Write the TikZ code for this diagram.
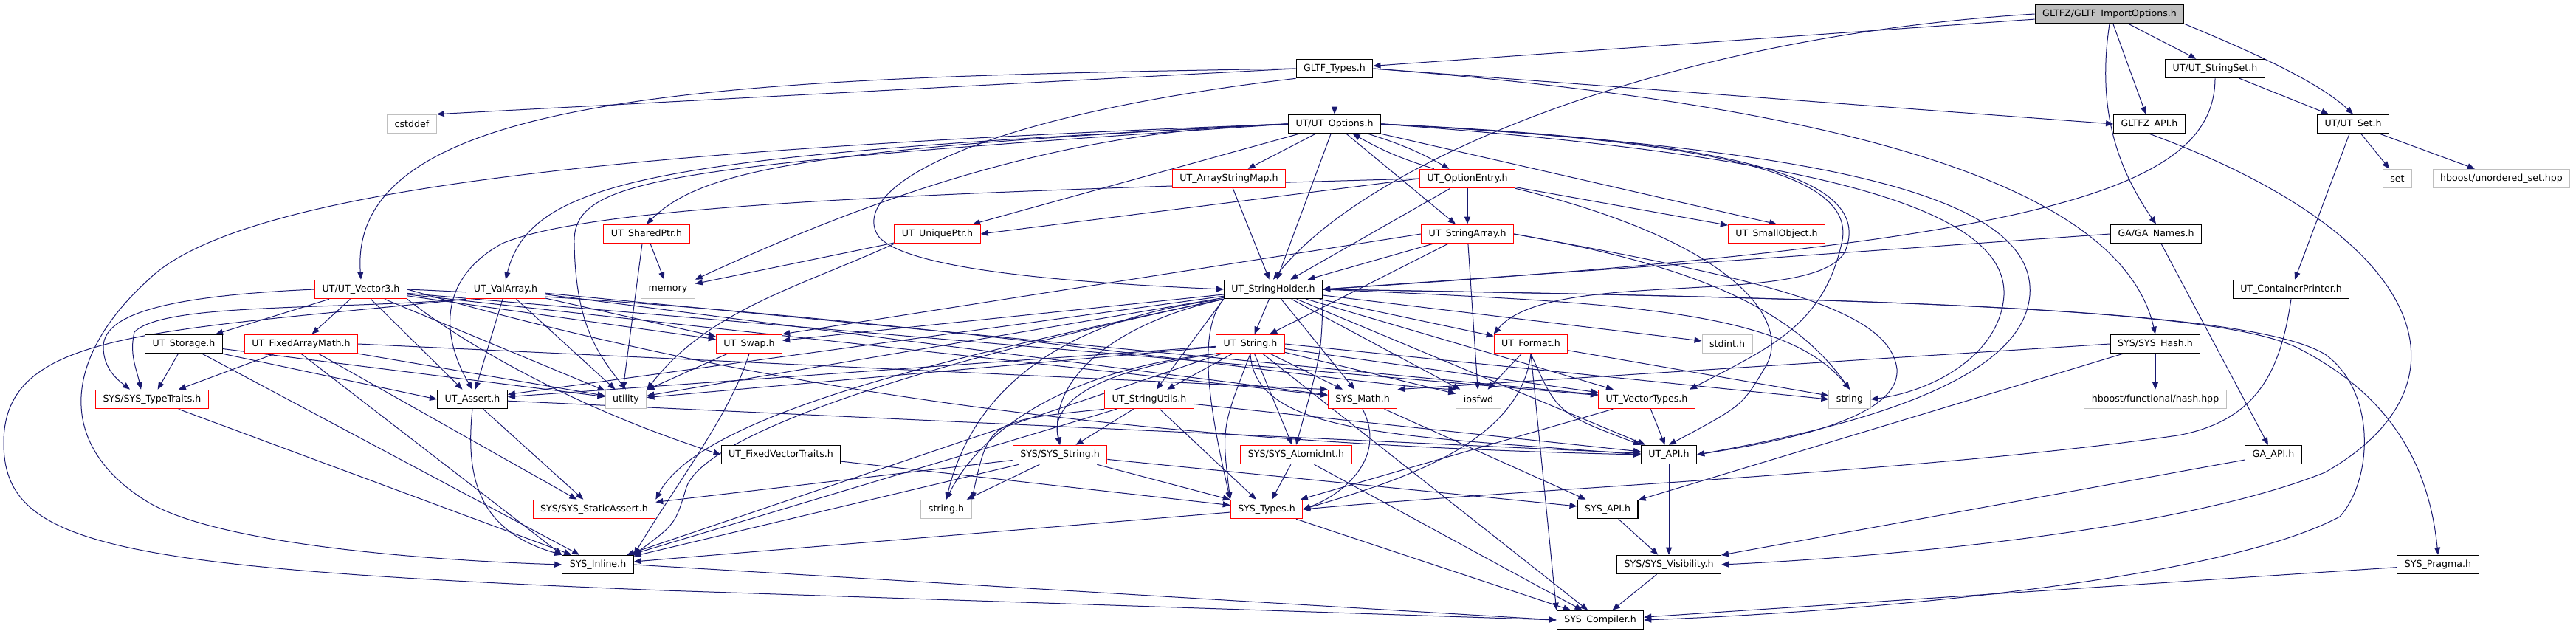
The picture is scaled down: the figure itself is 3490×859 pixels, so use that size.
\documentclass[tikz,border=0pt]{standalone}
\usepackage{fontspec}
\setmainfont{DejaVu Sans}
\usetikzlibrary{arrows.meta}
\pgfdeclarelayer{bg}
\pgfsetlayers{bg,main}
\definecolor{mblue}{RGB}{25,25,112}
\definecolor{gborder}{RGB}{191,191,191}
\definecolor{rborder}{RGB}{255,0,0}
\tikzset{
  nb/.style={draw, fill=white, line width=1.1pt, inner xsep=10pt, inner ysep=0pt, minimum height=25.5pt, font=\fontsize{12.6}{14}\selectfont},
  blk/.style={nb, draw=black},
  rd/.style={nb, draw=rborder},
  gr/.style={nb, draw=gborder},
  rootbox/.style={nb, draw=black, fill=gborder},
  dep/.style={draw=mblue, line width=1pt, -{Triangle[length=10pt,width=8pt]}}
}
\begin{document}
\begin{tikzpicture}[x=1pt,y=-1pt]
\useasboundingbox (0,0) rectangle (3490,859);
% rank 0
\node[rootbox] (imp) at (2858,19) {GLTFZ/GLTF\_ImportOptions.h};
% rank 1
\node[blk] (types) at (1808,93) {GLTF\_Types.h};
\node[blk] (sset) at (3001,93) {UT/UT\_StringSet.h};
% rank 2
\node[gr] (cstddef) at (558,168) {cstddef};
\node[blk] (opts) at (1808,168) {UT/UT\_Options.h};
\node[blk] (gapi) at (2912,168) {GLTFZ\_API.h};
\node[blk] (uset) at (3188,168) {UT/UT\_Set.h};
% rank 3
\node[rd] (asm) at (1665,242) {UT\_ArrayStringMap.h};
\node[rd] (oe) at (1988,242) {UT\_OptionEntry.h};
\node[gr] (set) at (3248,242) {set};
\node[gr] (hus) at (3389,242) {hboost/unordered\_set.hpp};
% rank 4
\node[rd] (sptr) at (876,317) {UT\_SharedPtr.h};
\node[rd] (uptr) at (1270,317) {UT\_UniquePtr.h};
\node[rd] (sarr) at (1988,317) {UT\_StringArray.h};
\node[rd] (sobj) at (2407,317) {UT\_SmallObject.h};
\node[blk] (ganames) at (2921,317) {GA/GA\_Names.h};
% rank 5
\node[rd] (vec3) at (489,392) {UT/UT\_Vector3.h};
\node[rd] (valarr) at (685,392) {UT\_ValArray.h};
\node[gr] (memory) at (905,392) {memory};
\node[blk] (sh) at (1725,392) {UT\_StringHolder.h};
\node[blk] (cprint) at (3104,392) {UT\_ContainerPrinter.h};
% rank 6
\node[blk] (storage) at (249,466) {UT\_Storage.h};
\node[rd] (fam) at (408,466) {UT\_FixedArrayMath.h};
\node[rd] (swap) at (1015,466) {UT\_Swap.h};
\node[rd] (ustr) at (1694,466) {UT\_String.h};
\node[rd] (fmt) at (2074,466) {UT\_Format.h};
\node[gr] (stdint) at (2340,466) {stdint.h};
\node[blk] (hash) at (2920,466) {SYS/SYS\_Hash.h};
% rank 7
\node[rd] (tt) at (206,541) {SYS/SYS\_TypeTraits.h};
\node[blk] (assert) at (640,541) {UT\_Assert.h};
\node[gr] (utility) at (848,541) {utility};
\node[rd] (sutils) at (1557,541) {UT\_StringUtils.h};
\node[rd] (math) at (1846,541) {SYS\_Math.h};
\node[gr] (iosfwd) at (2003,541) {iosfwd};
\node[rd] (vtypes) at (2231,541) {UT\_VectorTypes.h};
\node[gr] (string) at (2506,541) {string};
\node[gr] (hhash) at (2920,541) {hboost/functional/hash.hpp};
% rank 8
\node[blk] (fvt) at (1058,616) {UT\_FixedVectorTraits.h};
\node[rd] (sysstr) at (1436,616) {SYS/SYS\_String.h};
\node[rd] (atomic) at (1756,616) {SYS/SYS\_AtomicInt.h};
\node[blk] (utapi) at (2261,616) {UT\_API.h};
\node[blk] (gaapi) at (3080,616) {GA\_API.h};
% rank 9
\node[rd] (sassert) at (805,690) {SYS/SYS\_StaticAssert.h};
\node[gr] (stringh) at (1282,690) {string.h};
\node[rd] (systypes) at (1716,690) {SYS\_Types.h};
\node[blk] (sysapi) at (2178,690) {SYS\_API.h};
% rank 10
\node[blk] (inline) at (810,765) {SYS\_Inline.h};
\node[blk] (vis) at (2261,765) {SYS/SYS\_Visibility.h};
\node[blk] (pragma) at (3303,765) {SYS\_Pragma.h};
% rank 11
\node[blk] (compiler) at (2168,840) {SYS\_Compiler.h};

\begin{pgfonlayer}{bg}
% GLTF_ImportOptions
\draw[dep] (imp) -- (types);
\draw[dep] (imp) -- (sset);
\draw[dep] (imp.south east) .. controls (3050,70) and (3140,110) .. (uset.north);
\draw[dep] (imp) -- (gapi);
\draw[dep] (imp.south) .. controls (2840,150) and (2870,230) .. (ganames.north);
\draw[dep] (imp.west) .. controls (2250,50) and (1850,220) .. (sh.north);
% GLTF_Types
\draw[dep] (types) -- (opts);
\draw[dep] (types.west) -- (cstddef.north east);
\draw[dep] (types.west) .. controls (1000,105) and (470,120) .. (vec3.north);
\draw[dep] (types.east) -- (gapi.west);
\draw[dep] (types.east) .. controls (2600,150) and (2880,280) .. (hash.north);
\draw[dep] (types.south west) .. controls (1300,160) and (1150,260) .. (1190,320) .. controls (1230,370) and (1500,385) .. (sh.west);
% StringSet / Set / API
\draw[dep] (sset) -- (uset);
\draw[dep] (sset.south) .. controls (3000,260) and (2760,330) .. (sh.east);
\draw[dep] (uset) -- (cprint);
\draw[dep] (uset) -- (set);
\draw[dep] (uset) -- (hus);
\draw[dep] (gapi.south) .. controls (3290,320) and (3360,520) .. (3150,640) .. controls (2950,720) and (2550,755) .. (vis.east);
% UT_Options
\draw[dep] (opts) -- (asm);
\draw[dep] (opts) to[bend left=6] (oe);
\draw[dep] (oe) to[bend left=6] (opts);
\draw[dep] (opts.west) .. controls (1100,200) and (950,230) .. (sptr.north);
\draw[dep] (opts.west) .. controls (900,210) and (720,240) .. (valarr.north);
\draw[dep] (opts) -- (uptr);
\draw[dep] (opts.west) .. controls (1450,175) and (1200,260) .. (memory.north east);
\draw[dep] (opts) -- (sh);
\draw[dep] (opts) -- (sarr);
\draw[dep] (opts.south east) -- (sobj.north);
\draw[dep] (opts.west) .. controls (900,225) and (775,240) .. (778,330) .. controls (780,440) and (810,480) .. (utility.north);
\draw[dep] (opts.west) .. controls (900,200) and (330,250) .. (200,380) .. controls (90,480) and (70,600) .. (200,680) .. controls (300,740) and (600,760) .. (inline.west);
\draw[dep] (opts.east) .. controls (2450,200) and (2760,260) .. (2750,400) .. controls (2740,520) and (2500,580) .. (utapi.east);
\draw[dep] (opts.east) .. controls (2450,210) and (2720,280) .. (2715,400) .. controls (2710,480) and (2620,530) .. (string.east);
\draw[dep] (opts.east) .. controls (2300,190) and (2520,230) .. (2495,330) .. controls (2470,440) and (2400,470) .. ([xshift=-8pt]vtypes.north east);
\draw[dep] (opts.east) .. controls (2350,190) and (2540,240) .. (2500,340) .. controls (2460,420) and (2100,360) .. (fmt.north west);
% UT_OptionEntry
\draw[dep] (oe) -- (sh);
\draw[dep] (oe) -- (sarr);
\draw[dep] (oe) -- (sobj);
\draw[dep] (oe.west) -- (uptr.east);
\draw[dep] (oe.west) .. controls (1200,262) and (800,280) .. (680,330) .. controls (590,380) and (600,460) .. (assert.north);
\draw[dep] (oe.south east) .. controls (2360,330) and (2430,440) .. (2390,500) .. controls (2360,550) .. (utapi.north);
% mid level
\draw[dep] (asm) -- (sh);
\draw[dep] (sarr) -- (sh);
\draw[dep] (sarr) -- (ustr);
\draw[dep] (sarr) -- (iosfwd);
\draw[dep] (sarr.east) .. controls (2300,360) and (2430,420) .. (string.north);
\draw[dep] (sarr.east) .. controls (2400,380) and (2560,420) .. (2570,500) .. controls (2575,570) and (2400,600) .. (utapi.east);
\draw[dep] (sarr.west) -- (swap.north east);
\draw[dep] (sptr) -- (memory);
\draw[dep] ([xshift=-6pt]sptr.south) -- ([xshift=-4pt]utility.north);
\draw[dep] (uptr) -- (memory);
\draw[dep] (uptr.south west) .. controls (1080,390) and (960,420) .. (utility.north east);
\draw[dep] (ganames.west) -- (sh.east);
\draw[dep] (ganames) -- (gaapi);
\draw[dep] (cprint.south) .. controls (3090,500) and (3060,570) .. (2950,590) .. controls (2600,640) and (2100,660) .. (systypes.east);
% UT_Vector3
\draw[dep] (vec3) -- (storage);
\draw[dep] (vec3) -- (fam);
\draw[dep] (vec3) -- (assert);
\draw[dep] (vec3.south east) .. controls (620,460) and (770,550) .. (fvt.west);
\draw[dep] (vec3.west) .. controls (250,400) and (140,420) .. (140,470) .. controls (140,500) and (160,515) .. ([xshift=-30pt]tt.north);
\draw[dep] (vec3) -- (swap);
\draw[dep] (vec3) -- (vtypes);
\draw[dep] (vec3) -- (math);
\draw[dep] (vec3.east) .. controls (1000,520) and (1500,600) .. (utapi.west);
\draw[dep] (vec3.east) .. controls (1200,420) and (1800,520) .. (iosfwd.north west);
\draw[dep] (vec3) -- (utility);
% UT_ValArray
\draw[dep] (valarr) -- (assert);
\draw[dep] (valarr.south west) .. controls (450,420) and (220,410) .. (182,450) .. controls (175,480) and (185,500) .. ([xshift=-15pt]tt.north);
\draw[dep] (valarr) -- (swap);
\draw[dep] (valarr.south west) .. controls (200,450) and (5,450) .. (5,600) .. controls (5,740) and (150,770) .. (900,800) -- (compiler.west);
\draw[dep] (valarr) -- (utility);
\draw[dep] (valarr) -- (math);
\draw[dep] (valarr) -- (vtypes);
% UT_StringHolder
\draw[dep] (sh) -- (swap);
\draw[dep] (sh) -- (utility);
\draw[dep] (sh) -- (assert);
\draw[dep] (sh.south west) .. controls (1300,480) and (950,560) .. (sassert.north east);
\draw[dep] (sh.south west) .. controls (1300,480) and (960,580) .. (930,660) .. controls (915,710) .. (inline.north east);
\draw[dep] (sh) -- (ustr);
\draw[dep] (sh.south west) -- (sutils);
\draw[dep] (sh) -- (math);
\draw[dep] (sh.south west) .. controls (1500,440) and (1420,520) .. (sysstr.north);
\draw[dep] (sh.south west) .. controls (1620,450) and (1640,560) .. (systypes.north west);
\draw[dep] (sh.south east) .. controls (1790,480) .. (atomic.north);
\draw[dep] (sh.south west) .. controls (1450,430) and (1320,520) .. (stringh.north);
\draw[dep] (sh) -- (fmt);
\draw[dep] (sh) -- (stdint);
\draw[dep] (sh) -- (iosfwd);
\draw[dep] (sh) -- (vtypes);
\draw[dep] (sh) -- (utapi);
\draw[dep] (sh.east) .. controls (2200,410) and (2420,420) .. (string.north);
\draw[dep] (sh.east) .. controls (2600,405) and (3050,420) .. (3150,480) .. controls (3220,530) and (3215,650) .. (3170,700) .. controls (3000,790) and (2500,830) .. (compiler.east);
\draw[dep] (sh.east) .. controls (2600,405) and (3000,420) .. (3110,470) .. controls (3230,530) and (3290,620) .. (pragma.north);
% UT_Storage / FixedArrayMath / Swap
\draw[dep] (storage) -- (tt);
\draw[dep] (storage.south east) -- (assert.west);
\draw[dep] (storage) -- (inline);
\draw[dep] (storage) -- (utility);
\draw[dep] (fam) -- (tt);
\draw[dep] (fam.south) -- (inline.north west);
\draw[dep] (fam) -- (sassert);
\draw[dep] (fam) -- (utility);
\draw[dep] (fam.east) -- (math.north west);
\draw[dep] (swap) -- (utility);
\draw[dep] (swap.south) .. controls (990,560) and (920,650) .. (inline.north east);
% UT_String
\draw[dep] (ustr) -- (assert);
\draw[dep] (ustr) -- (utility);
\draw[dep] (ustr) -- (math);
\draw[dep] (ustr) -- (sutils);
\draw[dep] (ustr.south west) .. controls (1500,500) and (1420,540) .. (sysstr.north);
\draw[dep] (ustr.south) .. controls (1655,580) .. (systypes.north west);
\draw[dep] (ustr.south west) .. controls (1450,500) and (1330,580) .. (stringh.north);
\draw[dep] (ustr) -- (iosfwd);
\draw[dep] (ustr) -- (vtypes);
\draw[dep] (ustr.south) .. controls (1700,590) and (1900,590) .. (utapi.west);
\draw[dep] (ustr.east) -- (string.west);
\draw[dep] (ustr) -- (inline);
\draw[dep] (ustr) -- (compiler);
\draw[dep] (ustr) -- (atomic);
% UT_Format
\draw[dep] (fmt) -- (iosfwd);
\draw[dep] (fmt.south) .. controls (2060,600) and (1900,650) .. (systypes.east);
\draw[dep] (fmt.south) -- (compiler.north west);
\draw[dep] (fmt) -- (string);
\draw[dep] (fmt.south) .. controls (2110,560) .. (utapi.north west);
% SYS_Hash
\draw[dep] (hash.west) -- (math.north east);
\draw[dep] (hash) -- (sysapi);
\draw[dep] (hash) -- (hhash);
% rank 7
\draw[dep] (tt) -- (inline);
\draw[dep] (assert) -- (sassert);
\draw[dep] (assert.south) .. controls (630,650) and (650,720) .. (inline.north west);
\draw[dep] (assert) -- (utapi);
\draw[dep] (sutils) -- (sysstr);
\draw[dep] (sutils.south west) .. controls (1340,570) .. (stringh.north east);
\draw[dep] (sutils) -- (inline);
\draw[dep] (sutils) -- (systypes);
\draw[dep] (sutils) -- (utapi);
\draw[dep] (math.south) .. controls (1880,620) and (1820,670) .. (systypes.east);
\draw[dep] (math) -- (sysapi);
\draw[dep] (vtypes) -- (utapi);
\draw[dep] (vtypes) -- (systypes);
% rank 8
\draw[dep] (fvt) -- (systypes);
\draw[dep] (sysstr) -- (sassert);
\draw[dep] (sysstr) -- (stringh);
\draw[dep] (sysstr) -- (inline);
\draw[dep] (sysstr) -- (systypes);
\draw[dep] (sysstr) -- (sysapi);
\draw[dep] (atomic) -- (systypes);
\draw[dep] (atomic) -- (compiler);
\draw[dep] (utapi) -- (vis);
\draw[dep] (gaapi) -- (vis);
% rank 9+
\draw[dep] (systypes) -- (inline);
\draw[dep] (systypes) -- (compiler);
\draw[dep] (sysapi) -- (vis);
\draw[dep] (inline.east) -- (compiler.west);
\draw[dep] (vis) -- (compiler);
\draw[dep] (pragma) -- (compiler);
\end{pgfonlayer}
\end{tikzpicture}
\end{document}
